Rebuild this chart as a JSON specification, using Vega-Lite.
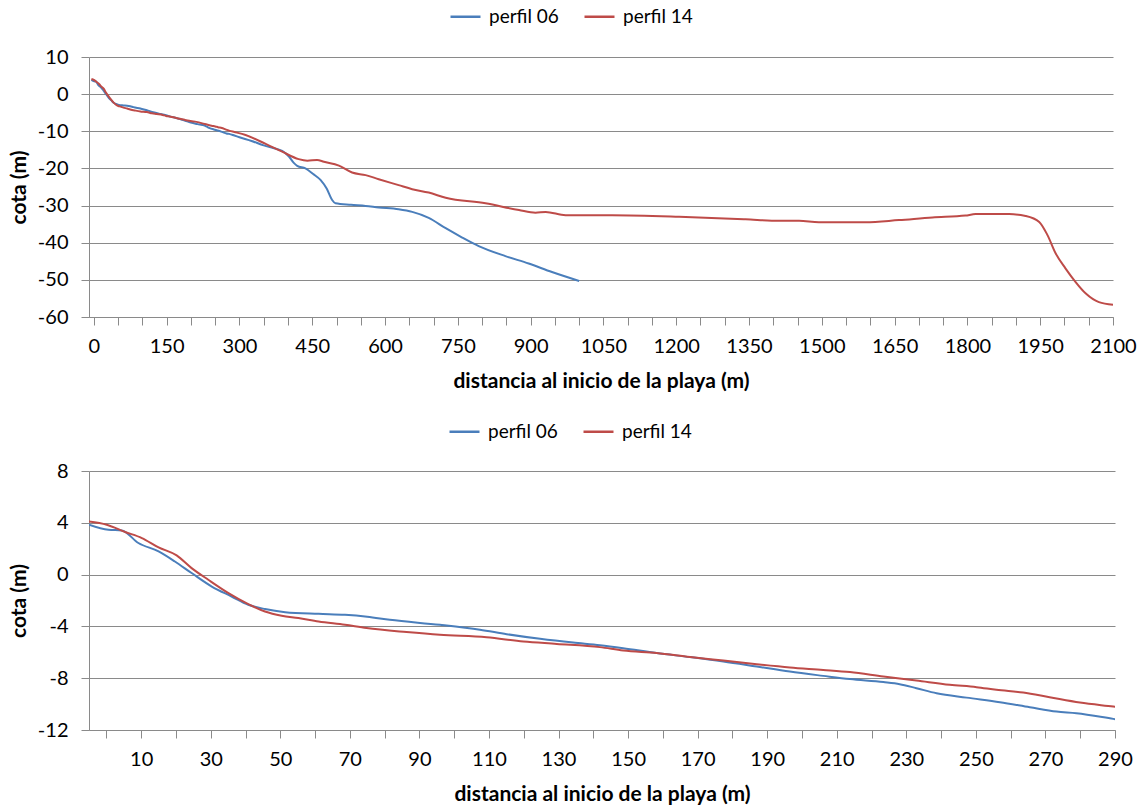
{
  "$schema": "https://vega.github.io/schema/vega-lite/v6.json",
  "padding": {"left": 8, "top": 0, "right": 5, "bottom": 5},
  "background": "white",
  "datasets": {
    "profiles": [
      {"perfil": "perfil 06", "d": -5, "cota": 3.85},
      {"perfil": "perfil 06", "d": 0.6, "cota": 3.46},
      {"perfil": "perfil 06", "d": 4.4, "cota": 3.41},
      {"perfil": "perfil 06", "d": 9.2, "cota": 2.44},
      {"perfil": "perfil 06", "d": 15, "cota": 1.79},
      {"perfil": "perfil 06", "d": 19.7, "cota": 1.01},
      {"perfil": "perfil 06", "d": 24.5, "cota": 0.12},
      {"perfil": "perfil 06", "d": 30.3, "cota": -0.92},
      {"perfil": "perfil 06", "d": 36, "cota": -1.69},
      {"perfil": "perfil 06", "d": 40.8, "cota": -2.33},
      {"perfil": "perfil 06", "d": 45.6, "cota": -2.66},
      {"perfil": "perfil 06", "d": 51.4, "cota": -2.9},
      {"perfil": "perfil 06", "d": 61, "cota": -3.03},
      {"perfil": "perfil 06", "d": 68.6, "cota": -3.1},
      {"perfil": "perfil 06", "d": 75, "cota": -3.25},
      {"perfil": "perfil 06", "d": 81.5, "cota": -3.49},
      {"perfil": "perfil 06", "d": 95.9, "cota": -3.88},
      {"perfil": "perfil 06", "d": 107.4, "cota": -4.26},
      {"perfil": "perfil 06", "d": 115.1, "cota": -4.6},
      {"perfil": "perfil 06", "d": 124.7, "cota": -4.96},
      {"perfil": "perfil 06", "d": 134.2, "cota": -5.25},
      {"perfil": "perfil 06", "d": 141.9, "cota": -5.45},
      {"perfil": "perfil 06", "d": 148.6, "cota": -5.68},
      {"perfil": "perfil 06", "d": 158.2, "cota": -6.06},
      {"perfil": "perfil 06", "d": 167.8, "cota": -6.37},
      {"perfil": "perfil 06", "d": 177.4, "cota": -6.71},
      {"perfil": "perfil 06", "d": 187, "cota": -7.1},
      {"perfil": "perfil 06", "d": 196.5, "cota": -7.49},
      {"perfil": "perfil 06", "d": 206.1, "cota": -7.82},
      {"perfil": "perfil 06", "d": 213.8, "cota": -8.07},
      {"perfil": "perfil 06", "d": 223.4, "cota": -8.3},
      {"perfil": "perfil 06", "d": 228.1, "cota": -8.46},
      {"perfil": "perfil 06", "d": 232.9, "cota": -8.77},
      {"perfil": "perfil 06", "d": 238.7, "cota": -9.16},
      {"perfil": "perfil 06", "d": 247.3, "cota": -9.5},
      {"perfil": "perfil 06", "d": 256.9, "cota": -9.85},
      {"perfil": "perfil 06", "d": 265.5, "cota": -10.24},
      {"perfil": "perfil 06", "d": 273.2, "cota": -10.58},
      {"perfil": "perfil 06", "d": 278.9, "cota": -10.7},
      {"perfil": "perfil 06", "d": 289.5, "cota": -11.14},
      {"perfil": "perfil 06", "d": 300, "cota": -11.6},
      {"perfil": "perfil 06", "d": 325, "cota": -12.6},
      {"perfil": "perfil 06", "d": 350, "cota": -13.8},
      {"perfil": "perfil 06", "d": 375, "cota": -14.7},
      {"perfil": "perfil 06", "d": 388, "cota": -15.3},
      {"perfil": "perfil 06", "d": 402, "cota": -16.8},
      {"perfil": "perfil 06", "d": 412, "cota": -18.5},
      {"perfil": "perfil 06", "d": 419, "cota": -19.3},
      {"perfil": "perfil 06", "d": 436, "cota": -20},
      {"perfil": "perfil 06", "d": 452, "cota": -21.5},
      {"perfil": "perfil 06", "d": 467, "cota": -23.1},
      {"perfil": "perfil 06", "d": 480, "cota": -25.5},
      {"perfil": "perfil 06", "d": 491, "cota": -28.5},
      {"perfil": "perfil 06", "d": 498, "cota": -29.4},
      {"perfil": "perfil 06", "d": 530, "cota": -29.8},
      {"perfil": "perfil 06", "d": 560, "cota": -30.1},
      {"perfil": "perfil 06", "d": 587, "cota": -30.5},
      {"perfil": "perfil 06", "d": 628, "cota": -31},
      {"perfil": "perfil 06", "d": 656, "cota": -31.7},
      {"perfil": "perfil 06", "d": 690, "cota": -33.3},
      {"perfil": "perfil 06", "d": 725, "cota": -36.1},
      {"perfil": "perfil 06", "d": 759, "cota": -38.6},
      {"perfil": "perfil 06", "d": 793, "cota": -40.9},
      {"perfil": "perfil 06", "d": 848, "cota": -43.6},
      {"perfil": "perfil 06", "d": 896, "cota": -45.6},
      {"perfil": "perfil 06", "d": 944, "cota": -47.9},
      {"perfil": "perfil 06", "d": 1000, "cota": -50.3},
      {"perfil": "perfil 14", "d": -5, "cota": 4.1},
      {"perfil": "perfil 14", "d": 0.1, "cota": 3.85},
      {"perfil": "perfil 14", "d": 5.4, "cota": 3.29},
      {"perfil": "perfil 14", "d": 10.2, "cota": 2.82},
      {"perfil": "perfil 14", "d": 15, "cota": 2.1},
      {"perfil": "perfil 14", "d": 20.2, "cota": 1.48},
      {"perfil": "perfil 14", "d": 24.5, "cota": 0.5},
      {"perfil": "perfil 14", "d": 29.3, "cota": -0.4},
      {"perfil": "perfil 14", "d": 35.1, "cota": -1.43},
      {"perfil": "perfil 14", "d": 40.8, "cota": -2.28},
      {"perfil": "perfil 14", "d": 45.6, "cota": -2.85},
      {"perfil": "perfil 14", "d": 50.4, "cota": -3.18},
      {"perfil": "perfil 14", "d": 55.2, "cota": -3.36},
      {"perfil": "perfil 14", "d": 61, "cota": -3.62},
      {"perfil": "perfil 14", "d": 68.6, "cota": -3.88},
      {"perfil": "perfil 14", "d": 74.8, "cota": -4.13},
      {"perfil": "perfil 14", "d": 86.3, "cota": -4.44},
      {"perfil": "perfil 14", "d": 95.9, "cota": -4.65},
      {"perfil": "perfil 14", "d": 109.3, "cota": -4.83},
      {"perfil": "perfil 14", "d": 119.9, "cota": -5.17},
      {"perfil": "perfil 14", "d": 129.5, "cota": -5.35},
      {"perfil": "perfil 14", "d": 141.9, "cota": -5.6},
      {"perfil": "perfil 14", "d": 148.6, "cota": -5.86},
      {"perfil": "perfil 14", "d": 158.2, "cota": -6.06},
      {"perfil": "perfil 14", "d": 167.8, "cota": -6.37},
      {"perfil": "perfil 14", "d": 177.4, "cota": -6.64},
      {"perfil": "perfil 14", "d": 187, "cota": -6.92},
      {"perfil": "perfil 14", "d": 196.5, "cota": -7.17},
      {"perfil": "perfil 14", "d": 206.1, "cota": -7.36},
      {"perfil": "perfil 14", "d": 213.8, "cota": -7.53},
      {"perfil": "perfil 14", "d": 223.4, "cota": -7.87},
      {"perfil": "perfil 14", "d": 232.9, "cota": -8.18},
      {"perfil": "perfil 14", "d": 242.5, "cota": -8.51},
      {"perfil": "perfil 14", "d": 250.2, "cota": -8.69},
      {"perfil": "perfil 14", "d": 255.9, "cota": -8.9},
      {"perfil": "perfil 14", "d": 263.6, "cota": -9.11},
      {"perfil": "perfil 14", "d": 271.2, "cota": -9.47},
      {"perfil": "perfil 14", "d": 279.9, "cota": -9.88},
      {"perfil": "perfil 14", "d": 289.5, "cota": -10.19},
      {"perfil": "perfil 14", "d": 312.6, "cota": -11},
      {"perfil": "perfil 14", "d": 354, "cota": -13.4},
      {"perfil": "perfil 14", "d": 388, "cota": -15.5},
      {"perfil": "perfil 14", "d": 422, "cota": -17.5},
      {"perfil": "perfil 14", "d": 440, "cota": -17.9},
      {"perfil": "perfil 14", "d": 460, "cota": -17.7},
      {"perfil": "perfil 14", "d": 474, "cota": -18.2},
      {"perfil": "perfil 14", "d": 505, "cota": -19.25},
      {"perfil": "perfil 14", "d": 532, "cota": -21.1},
      {"perfil": "perfil 14", "d": 560, "cota": -21.8},
      {"perfil": "perfil 14", "d": 587, "cota": -22.9},
      {"perfil": "perfil 14", "d": 628, "cota": -24.5},
      {"perfil": "perfil 14", "d": 656, "cota": -25.6},
      {"perfil": "perfil 14", "d": 690, "cota": -26.5},
      {"perfil": "perfil 14", "d": 725, "cota": -27.9},
      {"perfil": "perfil 14", "d": 807, "cota": -29.4},
      {"perfil": "perfil 14", "d": 876, "cota": -31.2},
      {"perfil": "perfil 14", "d": 910, "cota": -31.9},
      {"perfil": "perfil 14", "d": 931, "cota": -31.7},
      {"perfil": "perfil 14", "d": 972, "cota": -32.6},
      {"perfil": "perfil 14", "d": 1068, "cota": -32.6},
      {"perfil": "perfil 14", "d": 1206, "cota": -33},
      {"perfil": "perfil 14", "d": 1343, "cota": -33.7},
      {"perfil": "perfil 14", "d": 1412, "cota": -34.1},
      {"perfil": "perfil 14", "d": 1453, "cota": -34.1},
      {"perfil": "perfil 14", "d": 1494, "cota": -34.5},
      {"perfil": "perfil 14", "d": 1590, "cota": -34.5},
      {"perfil": "perfil 14", "d": 1659, "cota": -33.9},
      {"perfil": "perfil 14", "d": 1728, "cota": -33.2},
      {"perfil": "perfil 14", "d": 1796, "cota": -32.7},
      {"perfil": "perfil 14", "d": 1817, "cota": -32.3},
      {"perfil": "perfil 14", "d": 1886, "cota": -32.3},
      {"perfil": "perfil 14", "d": 1920, "cota": -32.8},
      {"perfil": "perfil 14", "d": 1948, "cota": -34.4},
      {"perfil": "perfil 14", "d": 1965, "cota": -37.95},
      {"perfil": "perfil 14", "d": 1982, "cota": -42.9},
      {"perfil": "perfil 14", "d": 2002, "cota": -46.9},
      {"perfil": "perfil 14", "d": 2023, "cota": -50.6},
      {"perfil": "perfil 14", "d": 2044, "cota": -53.7},
      {"perfil": "perfil 14", "d": 2071, "cota": -56},
      {"perfil": "perfil 14", "d": 2100, "cota": -56.7}
    ]
  },
  "vconcat": [
    {
      "width": 1024,
      "height": 260,
      "data": {"name": "profiles"},
      "mark": {"type": "line", "strokeWidth": 2, "interpolate": "monotone"},
      "encoding": {
        "x": {
          "field": "d", "type": "quantitative",
          "scale": {"domain": [-10, 2100], "nice": false, "zero": false},
          "axis": {
            "title": "distancia al inicio de la playa (m)",
            "values": [0,50,100,150,200,250,300,350,400,450,500,550,600,650,700,750,800,850,900,950,1000,1050,1100,1150,1200,1250,1300,1350,1400,1450,1500,1550,1600,1650,1700,1750,1800,1850,1900,1950,2000,2050,2100],
            "labelExpr": "datum.value % 150 == 0 ? '' + datum.value : ''",
            "grid": false
          }
        },
        "y": {
          "field": "cota", "type": "quantitative",
          "scale": {"domain": [-60, 10], "nice": false, "zero": false},
          "axis": {"title": "cota (m)", "values": [-60,-50,-40,-30,-20,-10,0,10], "labelExpr": "'' + datum.value", "grid": true}
        },
        "color": {
          "field": "perfil", "type": "nominal",
          "scale": {"domain": ["perfil 06", "perfil 14"], "range": ["#4A7EBB", "#BE4B48"]},
          "legend": {"orient": "none", "legendX": 360, "legendY": -57, "direction": "horizontal", "title": null}
        }
      }
    },
    {
      "width": 1026,
      "height": 259,
      "data": {"name": "profiles"},
      "mark": {"type": "line", "strokeWidth": 2, "interpolate": "monotone", "clip": true},
      "encoding": {
        "x": {
          "field": "d", "type": "quantitative",
          "scale": {"domain": [-5, 290], "nice": false, "zero": false},
          "axis": {
            "title": "distancia al inicio de la playa (m)",
            "values": [0,10,20,30,40,50,60,70,80,90,100,110,120,130,140,150,160,170,180,190,200,210,220,230,240,250,260,270,280,290],
            "labelExpr": "datum.value % 20 == 10 ? '' + datum.value : ''",
            "grid": false
          }
        },
        "y": {
          "field": "cota", "type": "quantitative",
          "scale": {"domain": [-12, 8], "nice": false, "zero": false},
          "axis": {"title": "cota (m)", "values": [-12,-8,-4,0,4,8], "labelExpr": "'' + datum.value", "grid": true}
        },
        "color": {
          "field": "perfil", "type": "nominal",
          "scale": {"domain": ["perfil 06", "perfil 14"], "range": ["#4A7EBB", "#BE4B48"]},
          "legend": {"orient": "none", "legendX": 359, "legendY": -56, "direction": "horizontal", "title": null}
        }
      }
    }
  ],
  "spacing": 24,
  "resolve": {"scale": {"color": "independent", "x": "independent", "y": "independent"}, "legend": {"color": "independent"}},
  "config": {
    "font": "Lato",
    "view": {"stroke": null},
    "axis": {
      "labelFont": "Lato", "labelFontSize": 20, "labelColor": "#000000",
      "titleFont": "Lato", "titleFontSize": 21, "titleFontWeight": "bold", "titleColor": "#000000",
      "domainColor": "#8a8a8a", "tickColor": "#8a8a8a", "gridColor": "#8a8a8a",
      "domainWidth": 1, "tickWidth": 1, "gridWidth": 1, "tickSize": 8,
      "labelOverlap": false, "labelFlush": false, "labelBound": false
    },
    "axisX": {"labelPadding": 11, "titlePadding": 14, "labelAngle": 0},
    "axisY": {"labelPadding": 13, "titlePadding": 8},
    "legend": {
      "padding": 0, "symbolType": "stroke", "symbolSize": 900, "symbolStrokeWidth": 2.5,
      "labelFont": "Lato", "labelFontSize": 19, "labelColor": "#000000", "labelOffset": 7,
      "columnPadding": 20
    }
  }
}
